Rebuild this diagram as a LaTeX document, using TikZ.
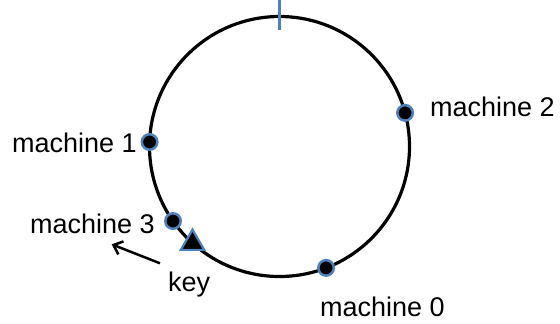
\documentclass[tikz,border=0pt]{standalone}
\usepackage{fontspec}
\setmainfont{Liberation Sans}
\usetikzlibrary{shapes.geometric,arrows.meta}
\definecolor{ringblue}{RGB}{79,129,189}
\begin{document}
\begin{tikzpicture}[x=1pt,y=-1pt,
  lbl/.style={font=\fontsize{27}{32}\selectfont, inner sep=0pt},
  dot/.style={circle, fill=black, draw=ringblue, line width=2.5pt, minimum size=15.5pt, inner sep=0pt},
  keymark/.style={regular polygon, regular polygon sides=3, fill=black, draw=ringblue, line width=2.2pt, minimum size=27pt, inner sep=0pt},
  ringstyle/.style={circle, draw=black, line width=3.2pt, minimum size=260pt, inner sep=0pt, outer sep=0pt}]
\useasboundingbox (0,0) rectangle (560,324);
\node[ringstyle] (ring) at (279.5,146.5) {};
\coordinate (tt) at ([yshift=-13pt]ring.90.5);
\coordinate (tb) at ([yshift=17pt]ring.90.5);
\draw[ringblue, line width=3pt] (tt) -- (tb);
\node[dot] (m2) at (ring.15.2) {};
\node[dot] (m1) at (ring.178.7) {};
\node[dot] (m3) at (ring.215.5) {};
\node[dot] (m0) at (ring.-69.5) {};
\node[keymark] (key) at (ring.228.5) {};
\node[lbl, anchor=base west] (l2) at (430,116.5) {machine 2};
\node[lbl, anchor=base east] (l1) at (137,152.3) {machine 1};
\node[lbl, anchor=base east] (l3) at (155,233.3) {machine 3};
\node[lbl, anchor=base west] (l0) at (320,316.5) {machine 0};
\node[lbl, anchor=base west] (lk) at (168,291) {key};
\coordinate (as) at (160,263.3);
\coordinate (ae) at (111.7,244.3);
\draw[line width=2.5pt, -{Straight Barb[length=8pt,width=14pt]}] (as) -- (ae);
\end{tikzpicture}
\end{document}
